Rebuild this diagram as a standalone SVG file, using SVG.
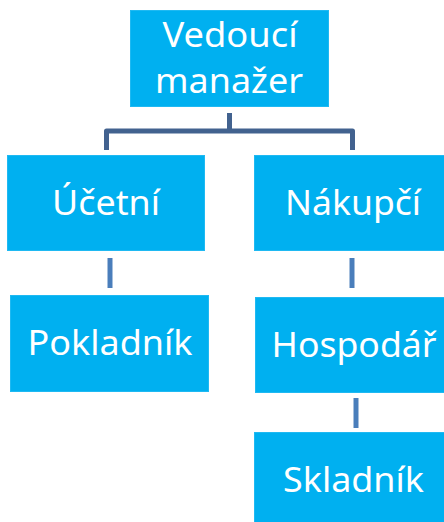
<svg xmlns="http://www.w3.org/2000/svg" width="444" height="522" viewBox="0 0 444 522">
  <style>
    .box { fill: #00b0f0; stroke: #1fb9f2; stroke-width: 1; }
    .lbl { font-family: "Noto Sans", "Open Sans", sans-serif; font-size: 35px; fill: #ffffff; text-anchor: middle; }
    .tree { fill: none; stroke: #42628f; stroke-width: 5; stroke-linejoin: round; }
    .link { fill: none; stroke: #4a7ebb; stroke-width: 5; }
  </style>
  <rect width="444" height="522" fill="#ffffff"/>
  <g id="connectors">
    <path class="tree" d="M229.5 113 V131 M106.5 150 V131 H352.5 V150"/>
    <line class="link" x1="110" y1="258" x2="110" y2="288"/>
    <line class="link" x1="352" y1="258" x2="352" y2="288"/>
    <line class="link" x1="356" y1="398" x2="356" y2="428"/>
  </g>
  <g id="vedouci-manazer">
    <rect class="box" x="130.5" y="10.5" width="198" height="96"/>
    <text class="lbl" x="230" y="47" textLength="135" lengthAdjust="spacingAndGlyphs">Vedoucí</text>
    <text class="lbl" x="229" y="93" textLength="148" lengthAdjust="spacingAndGlyphs">manažer</text>
  </g>
  <g id="ucetni">
    <rect class="box" x="7.5" y="155.5" width="197" height="95"/>
    <text class="lbl" x="106" y="215" textLength="108" lengthAdjust="spacingAndGlyphs">Účetní</text>
  </g>
  <g id="nakupci">
    <rect class="box" x="254.5" y="155.5" width="190" height="95"/>
    <text class="lbl" x="353" y="215" textLength="136" lengthAdjust="spacingAndGlyphs">Nákupčí</text>
  </g>
  <g id="pokladnik">
    <rect class="box" x="10.5" y="295.5" width="198" height="96"/>
    <text class="lbl" x="110" y="355" textLength="165" lengthAdjust="spacingAndGlyphs">Pokladník</text>
  </g>
  <g id="hospodar">
    <rect class="box" x="255.5" y="297.5" width="189" height="95"/>
    <text class="lbl" x="354" y="357" textLength="165" lengthAdjust="spacingAndGlyphs">Hospodář</text>
  </g>
  <g id="skladnik">
    <rect class="box" x="254.5" y="432.5" width="190" height="90"/>
    <text class="lbl" x="353.5" y="492" textLength="141" lengthAdjust="spacingAndGlyphs">Skladník</text>
  </g>
</svg>
